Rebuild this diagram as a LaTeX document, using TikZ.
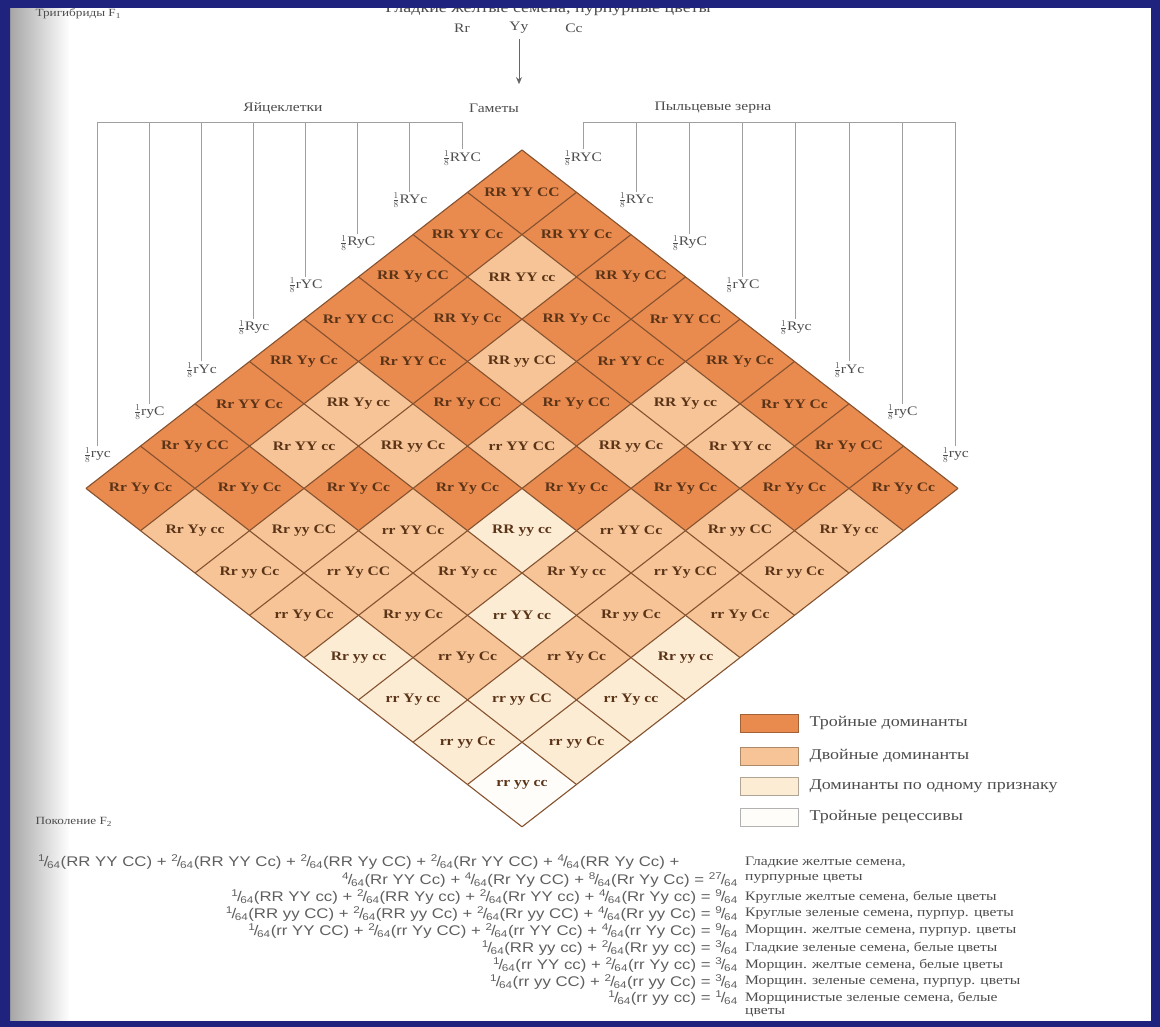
\documentclass[tikz,border=0pt]{standalone}
\usepackage{amsmath}
\usepackage{fontspec}
\setmainfont{Liberation Serif}[FakeStretch=1.2]
\newfontfamily\eqfont{Liberation Sans}[FakeStretch=1.2]
\usepackage{xcolor}
\usetikzlibrary{arrows.meta}
\definecolor{frameblue}{HTML}{1F237E}
\definecolor{domthree}{HTML}{E98A4F}
\definecolor{domtwo}{HTML}{F6C496}
\definecolor{domone}{HTML}{FCECD4}
\definecolor{domzero}{HTML}{FFFDFA}
\definecolor{cellline}{HTML}{85522F}
\definecolor{celltext}{HTML}{5B3418}
\definecolor{inkgray}{HTML}{4D4D4D}
\newcommand{\qf}[1]{\textsuperscript{#1}\kern-.1em/\kern-.1em\textsubscript{64}}
\newcommand{\gene}[3]{\ifcase#3 #2#2\or #1#2\or #1#1\fi}
\newcommand{\gam}[3]{\ifnum#3=1 #1\else #2\fi}

\begin{document}
\begin{tikzpicture}[x=1pt, y=-1pt, >={Stealth[length=7pt,width=6pt]},
    celltxt/.style={font=\fontsize{13}{15}\selectfont\bfseries, text=celltext, inner sep=0pt},
    gamtxt/.style={font=\fontsize{13}{15}\selectfont, text=inkgray, inner sep=1pt},
    headtxt/.style={font=\fontsize{13}{15}\selectfont, text=inkgray},
    legbox/.style={minimum width=58pt, minimum height=18pt, draw=#1!70!black, line width=1pt, fill=#1},
    legtxt/.style={font=\fontsize{15}{17}\selectfont, text=inkgray, anchor=west},
    eqtxt/.style={font=\eqfont\fontsize{14}{16}\selectfont, text=inkgray!90, inner sep=0pt},
    desctxt/.style={font=\fontsize{13}{15}\selectfont, text=inkgray, anchor=west, inner sep=0pt},
    gline/.style={gray!75, line width=0.9pt}]
  \useasboundingbox (0,0) rectangle (1160,1027);
  \fill[white] (0,0) rectangle (1160,1027);
  \shade[left color=black!35, right color=white] (10,8) rectangle (70,1021);

  \foreach \ea/\eb/\ec [count=\i from 0] in {1/1/1,1/1/0,1/0/1,0/1/1,1/0/0,0/1/0,0/0/1,0/0/0}{
    \foreach \pa/\pb/\pc [count=\j from 0] in {1/1/1,1/1/0,1/0/1,0/1/1,1/0/0,0/1/0,0/0/1,0/0/0}{
      \pgfmathtruncatemacro{\nR}{\ea+\pa}
      \pgfmathtruncatemacro{\nY}{\eb+\pb}
      \pgfmathtruncatemacro{\nC}{\ec+\pc}
      \pgfmathtruncatemacro{\ndom}{(\nR>0)+(\nY>0)+(\nC>0)}
      \pgfmathsetmacro{\cx}{522+54.5*(\j-\i)}
      \pgfmathsetmacro{\cy}{150+42.3*(\i+\j)}
      \edef\cellfill{\ifcase\ndom domzero\or domone\or domtwo\or domthree\fi}
      \fill[\cellfill] (\cx,\cy) -- ++(54.5,42.3) -- ++(-54.5,42.3) -- ++(-54.5,-42.3) -- cycle;
      \node[celltxt] (c\i\j) at (\cx,\cy+42.3) {\gene{R}{r}{\nR}\ \gene{Y}{y}{\nY}\ \gene{C}{c}{\nC}};
    }
  }
  \foreach \k in {0,...,8}{
    \draw[cellline, line width=1.1pt] ({522-54.5*\k},{150+42.3*\k}) -- ++(436,338.4);
    \draw[cellline, line width=1.1pt] ({522+54.5*\k},{150+42.3*\k}) -- ++(-436,338.4);
  }

  \foreach \ea/\eb/\ec [count=\i from 0] in {1/1/1,1/1/0,1/0/1,0/1/1,1/0/0,0/1/0,0/0/1,0/0/0}{
    \node[gamtxt] (egg\i) at ({462-52.1*\i},{158+42.4*\i}) {\(\tfrac{1}{8}\)\gam{R}{r}{\ea}\gam{Y}{y}{\eb}\gam{C}{c}{\ec}};
    \coordinate (eggtop\i) at ({462-52.1*\i},122);
    \draw[gline] (egg\i.north) -- (eggtop\i);
    \node[gamtxt] (pollen\i) at ({583+53.2*\i},{158+42.4*\i}) {\(\tfrac{1}{8}\)\gam{R}{r}{\ea}\gam{Y}{y}{\eb}\gam{C}{c}{\ec}};
    \coordinate (pollentop\i) at ({583+53.2*\i},122);
    \draw[gline] (pollen\i.north) -- (pollentop\i);
  }
  \draw[gline] (eggtop7) -- (eggtop0);
  \draw[gline] (pollentop0) -- (pollentop7);

  \node[font=\fontsize{11}{13}\selectfont, text=inkgray, anchor=west] (trihybrid) at (32,14) {Тригибриды F\textsubscript{1}};
  \node[font=\fontsize{15}{17}\selectfont, text=inkgray] (parent) at (548,9) {Гладкие желтые семена, пурпурные цветы};
  \node[headtxt] (pR) at (462,28) {Rr};
  \node[headtxt] (pY) at (519,28) {Yy};
  \node[headtxt] (pC) at (574,28) {Cc};
  \node[headtxt] (eggs) at (283,108) {Яйцеклетки};
  \node[headtxt] (gametes) at (494,108) {Гаметы};
  \node[headtxt] (pollen) at (713,108) {Пыльцевые зерна};
  \draw[->, gray!80!black, line width=0.9pt, shorten <=2pt, shorten >=16pt] (pY.south) -- (pY.south |- gametes.north);

  \node[legbox=domthree] (leg3) at (769,723) {};
  \node[legbox=domtwo] (leg2) at (769,756) {};
  \node[legbox=domone] (leg1) at (769,786) {};
  \node[legbox=domzero, draw=gray!60] (leg0) at (769,817) {};
  \node[legtxt] (legtxt3) at (806,723) {Тройные доминанты};
  \node[legtxt] (legtxt2) at (806,756) {Двойные доминанты};
  \node[legtxt] (legtxt1) at (806,786) {Доминанты по одному признаку};
  \node[legtxt] (legtxt0) at (806,817) {Тройные рецессивы};

  \node[font=\fontsize{11}{13}\selectfont, text=inkgray, anchor=west] (ftwo) at (32,822) {Поколение F\textsubscript{2}};
  \node[eqtxt, anchor=west] (eq1) at (38,862) {\qf{1}(RR YY CC) + \qf{2}(RR YY Cc) + \qf{2}(RR Yy CC) + \qf{2}(Rr YY CC) + \qf{4}(RR Yy Cc) +};
  \node[eqtxt, anchor=east] (eq2) at (738,880) {\qf{4}(Rr YY Cc) + \qf{4}(Rr Yy CC) + \qf{8}(Rr Yy Cc) = \qf{27}};
  \node[eqtxt, anchor=east] (eq3) at (738,897) {\qf{1}(RR YY cc) + \qf{2}(RR Yy cc) + \qf{2}(Rr YY cc) + \qf{4}(Rr Yy cc) = \qf{9}};
  \node[eqtxt, anchor=east] (eq4) at (738,914) {\qf{1}(RR yy CC) + \qf{2}(RR yy Cc) + \qf{2}(Rr yy CC) + \qf{4}(Rr yy Cc) = \qf{9}};
  \node[eqtxt, anchor=east] (eq5) at (738,931) {\qf{1}(rr YY CC) + \qf{2}(rr Yy CC) + \qf{2}(rr YY Cc) + \qf{4}(rr Yy Cc) = \qf{9}};
  \node[eqtxt, anchor=east] (eq6) at (738,948) {\qf{1}(RR yy cc) + \qf{2}(Rr yy cc) = \qf{3}};
  \node[eqtxt, anchor=east] (eq7) at (738,965) {\qf{1}(rr YY cc) + \qf{2}(rr Yy cc) = \qf{3}};
  \node[eqtxt, anchor=east] (eq8) at (738,982) {\qf{1}(rr yy CC) + \qf{2}(rr yy Cc) = \qf{3}};
  \node[eqtxt, anchor=east] (eq9) at (738,998) {\qf{1}(rr yy cc) = \qf{1}};
  \node[desctxt] (desc1a) at (745,862) {Гладкие желтые семена,};
  \node[desctxt] (desc1b) at (745,879) {пурпурные цветы};
  \node[desctxt] (desc3) at (745,897) {Круглые желтые семена, белые цветы};
  \node[desctxt] (desc4) at (745,914) {Круглые зеленые семена, пурпур. цветы};
  \node[desctxt] (desc5) at (745,931) {Морщин. желтые семена, пурпур. цветы};
  \node[desctxt] (desc6) at (745,948) {Гладкие зеленые семена, белые цветы};
  \node[desctxt] (desc7) at (745,965) {Морщин. желтые семена, белые цветы};
  \node[desctxt] (desc8) at (745,982) {Морщин. зеленые семена, пурпур. цветы};
  \node[desctxt] (desc9a) at (745,998) {Морщинистые зеленые семена, белые};
  \node[desctxt] (desc9b) at (745,1013) {цветы};

  \fill[frameblue, even odd rule] (0,0) rectangle (1160,1027) (10,8) rectangle (1151,1021);
\end{tikzpicture}
\end{document}
